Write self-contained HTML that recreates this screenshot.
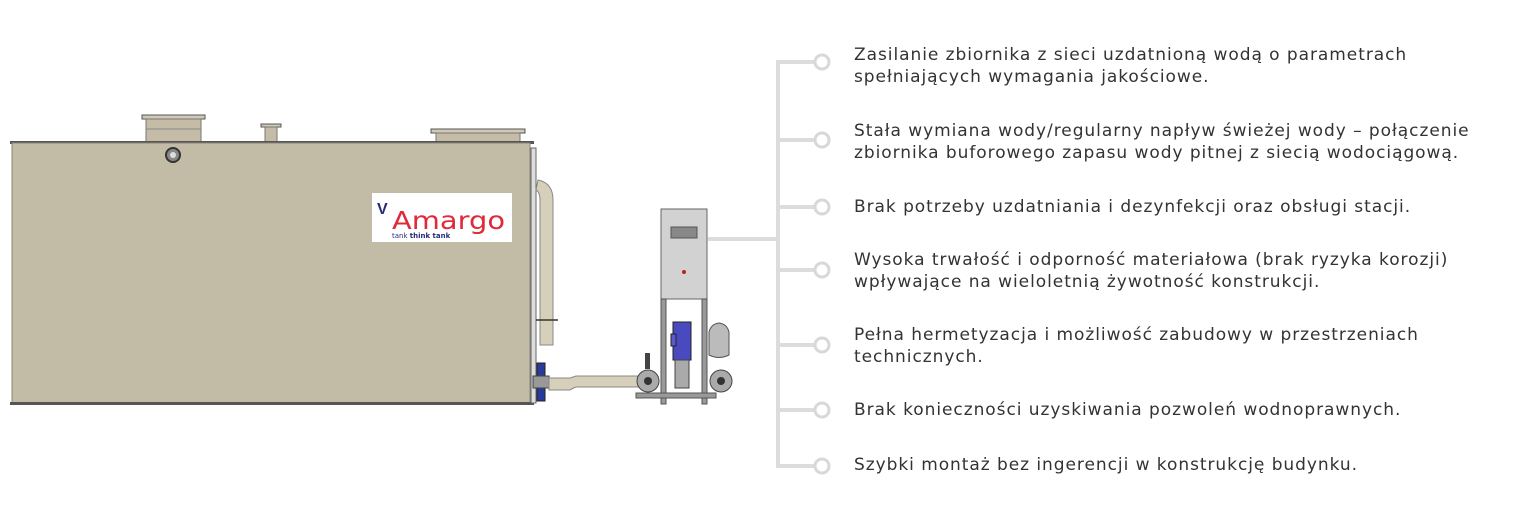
<!DOCTYPE html>
<html><head><meta charset="utf-8"><style>
html,body{margin:0;padding:0;background:#fff;}
body{width:1536px;height:520px;position:relative;overflow:hidden;font-family:"DejaVu Sans","Liberation Sans",sans-serif;}
.t{position:absolute;left:854px;font-size:17px;letter-spacing:0.95px;line-height:22px;color:#333;white-space:nowrap;}
svg{position:absolute;left:0;top:0;}
</style></head><body>
<svg width="1536" height="520" viewBox="0 0 1536 520">
  <g stroke="#dcdcdc" stroke-width="4" fill="none">
    <line x1="778" y1="62" x2="778" y2="468"/>
    <line x1="776" y1="62" x2="815" y2="62"/>
    <line x1="776" y1="140" x2="815" y2="140"/>
    <line x1="776" y1="207" x2="815" y2="207"/>
    <line x1="776" y1="270" x2="815" y2="270"/>
    <line x1="776" y1="345" x2="815" y2="345"/>
    <line x1="776" y1="410" x2="815" y2="410"/>
    <line x1="776" y1="466" x2="815" y2="466"/>
    <line x1="708" y1="239" x2="778" y2="239"/>
  </g>
  <g stroke="#d8d8d8" stroke-width="3" fill="#fff">
    <circle cx="822" cy="62" r="7"/>
    <circle cx="822" cy="140" r="7"/>
    <circle cx="822" cy="207" r="7"/>
    <circle cx="822" cy="270" r="7"/>
    <circle cx="822" cy="345" r="7"/>
    <circle cx="822" cy="410" r="7"/>
    <circle cx="822" cy="466" r="7"/>
  </g>
  <rect x="142" y="115" width="63" height="4" fill="#d0c9b5" stroke="#555" stroke-width="1"/>
  <rect x="146" y="119" width="55" height="23" fill="#c4bca6" stroke="#777" stroke-width="1"/>
  <line x1="146" y1="129" x2="201" y2="129" stroke="#888"/>
  <rect x="261" y="124" width="20" height="3" fill="#d0c9b5" stroke="#555"/>
  <rect x="265" y="127" width="12" height="15" fill="#c4bca6" stroke="#777"/>
  <rect x="431" y="129" width="94" height="4" fill="#d0c9b5" stroke="#555"/>
  <rect x="436" y="133" width="84" height="9" fill="#c4bca6" stroke="#777"/>
  <rect x="10" y="141" width="524" height="3" fill="#555"/>
  <rect x="12" y="143" width="518" height="260" fill="#c2bba6" stroke="#8a8576" stroke-width="1"/>
  <rect x="10" y="402" width="524" height="3" fill="#555"/>
  <circle cx="173" cy="155" r="7" fill="#888" stroke="#333" stroke-width="2"/>
  <circle cx="173" cy="155" r="3" fill="#ddd"/>
  <rect x="531" y="148" width="5" height="255" fill="#ddd" stroke="#666" stroke-width="1"/>
  <path d="M538 180 Q553 183 553 200 L553 345 L540 345 L540 200 Q540 192 536 190 Z" fill="#d6cfba" stroke="#888"/>
  <line x1="536" y1="320" x2="558" y2="320" stroke="#333" stroke-width="1.5"/>
  <rect x="372" y="193" width="140" height="49" fill="#fff"/>
  <text x="377" y="214" font-family="Liberation Sans,sans-serif" font-weight="bold" font-size="16" fill="#2a2a7a">V</text>
  <text x="392" y="229" font-family="DejaVu Sans,sans-serif" font-size="25" fill="#e02a3a" textLength="113" lengthAdjust="spacingAndGlyphs">Amargo</text>
  <text x="392" y="238" font-family="DejaVu Sans,sans-serif" font-size="7" fill="#2a2a7a">tank <tspan font-weight="bold">think tank</tspan></text>
  <rect x="537" y="363" width="8" height="38" fill="#2a3a9a" stroke="#222"/>
  <rect x="533" y="376" width="16" height="12" fill="#999" stroke="#444"/>
  <path d="M549 378 L570 378 Q573 377 576 376 L640 376 L640 387 L576 387 Q573 388 570 390 L549 390 Z" fill="#d6cfba" stroke="#888"/>
  <circle cx="648" cy="381" r="11" fill="#aaa" stroke="#444"/>
  <circle cx="648" cy="381" r="4" fill="#333"/>
  <circle cx="721" cy="381" r="11" fill="#aaa" stroke="#444"/>
  <circle cx="721" cy="381" r="4" fill="#333"/>
  <rect x="645" y="353" width="5" height="16" fill="#444"/>
  <rect x="661" y="209" width="46" height="90" fill="#d2d2d2" stroke="#666"/>
  <rect x="671" y="227" width="26" height="11" fill="#888" stroke="#555"/>
  <circle cx="684" cy="272" r="2" fill="#b22"/>
  <rect x="661" y="299" width="5" height="105" fill="#999" stroke="#555"/>
  <rect x="702" y="299" width="5" height="105" fill="#999" stroke="#555"/>
  <rect x="636" y="393" width="80" height="5" fill="#999" stroke="#555"/>
  <rect x="673" y="322" width="18" height="38" fill="#4a4ac0" stroke="#222"/>
  <rect x="671" y="334" width="5" height="12" fill="#5a5ad0" stroke="#222"/>
  <rect x="675" y="360" width="14" height="28" fill="#aaa" stroke="#444"/>
  <path d="M709 332 Q711 324 719 323 Q727 324 729 332 L729 355 Q719 360 709 355 Z" fill="#bbb" stroke="#555"/>
</svg>
<div class="t" style="top:44px">Zasilanie zbiornika z sieci uzdatnioną wodą o parametrach<br>spełniających wymagania jakościowe.</div>
<div class="t" style="top:120px">Stała wymiana wody/regularny napływ świeżej wody – połączenie<br>zbiornika buforowego zapasu wody pitnej z siecią wodociągową.</div>
<div class="t" style="top:196px">Brak potrzeby uzdatniania i dezynfekcji oraz obsługi stacji.</div>
<div class="t" style="top:249px">Wysoka trwałość i odporność materiałowa (brak ryzyka korozji)<br>wpływające na wieloletnią żywotność konstrukcji.</div>
<div class="t" style="top:324px">Pełna hermetyzacja i możliwość zabudowy w przestrzeniach<br>technicznych.</div>
<div class="t" style="top:399px">Brak konieczności uzyskiwania pozwoleń wodnoprawnych.</div>
<div class="t" style="top:454px">Szybki montaż bez ingerencji w konstrukcję budynku.</div>
</body></html>
